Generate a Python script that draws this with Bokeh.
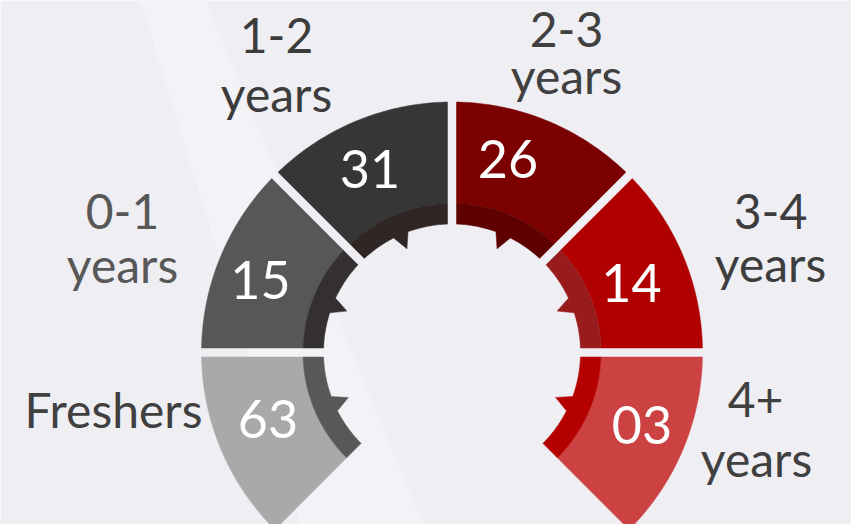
import math
from bokeh.plotting import figure
from bokeh.models import Range1d, ColumnDataSource
from bokeh.core.properties import value
from bokeh.embed import file_html
from bokeh.resources import INLINE

# ---- data ----
categories = ["Freshers", "0-1\nyears", "1-2\nyears", "2-3\nyears", "3-4\nyears", "4+\nyears"]
counts = [63, 15, 31, 26, 14, 3]

# ---- styles ----
seg_colors = ["#a9a9a9", "#575757", "#363636", "#7b0000", "#b00000", "#cc4242"]
ring_colors = ["#585858", "#353030", "#302626", "#5e0000", "#981c1e", "#b50000"]
label_colors = ["#404040", "#585858", "#3c3c3c", "#404040", "#3d3d3d", "#404040"]

# ---- layout (image pixel coordinates, y downward) ----
CX, CY = 451.5, 352.0
R_OUT, R_MID, R_IN, R_TIP = 250.5, 149.0, 128.5, 113.0
HALF_GAP = 4.5
START, SPAN = 225.0, 270.0
# category label line positions: (x, y) per line
label_lines = [
    [(113, 409)],
    [(122, 211), (122, 264)],
    [(276, 35), (276, 93)],
    [(566, 29), (566, 75)],
    [(770, 211), (770, 263)],
    [(755, 399), (756, 458)],
]
value_pos = [(267.5, 418), (260, 279), (369.5, 168), (507.5, 158), (631, 282), (641.5, 424)]

W, H = 851, 524
p = figure(width=W, height=H, output_backend="svg", toolbar_location=None,
           x_range=Range1d(0, W), y_range=Range1d(H, 0),
           min_border=0, background_fill_color="#efeef3", border_fill_color="#efeef3")
p.axis.visible = False
p.grid.visible = False
p.outline_line_color = None

# subtle lighter diagonal band in background
p.patch([140, 205, 423, 300], [0, 0, 524, 524], color="#f3f2f6", line_color=None)


def pt(r, a):
    t = math.radians(a)
    return CX + r * math.cos(t), CY - r * math.sin(t)


def arc(r, a0, a1, n=60):
    return [pt(r, a0 + (a1 - a0) * k / n) for k in range(n + 1)]


n = len(categories)
step = SPAN / n
seg_xs, seg_ys, ring_xs, ring_ys = [], [], [], []
for i in range(n):
    a_hi = START - step * i
    a_lo = a_hi - step
    gl = HALF_GAP if a_lo > START - SPAN + 1e-6 else 0.0
    gh = HALF_GAP if a_hi < START - 1e-6 else 0.0

    def lo(r):
        return a_lo + math.degrees(math.asin(gl / r))

    def hi(r):
        return a_hi - math.degrees(math.asin(gh / r))

    pts = arc(R_OUT, hi(R_OUT), lo(R_OUT)) + arc(R_MID, lo(R_MID), hi(R_MID))
    seg_xs.append([q[0] for q in pts])
    seg_ys.append([q[1] for q in pts])

    left = (a_lo + a_hi) / 2 > 90
    if left:
        t_lo, t_tip, t_hi = a_lo + 20, a_lo + 23.5, a_lo + 27
    else:
        t_lo, t_tip, t_hi = a_hi - 27, a_hi - 23.5, a_hi - 20
    inner = arc(R_IN, hi(R_IN), t_hi, 20) + [pt(R_TIP, t_tip)] + arc(R_IN, t_lo, lo(R_IN), 20)
    pts = arc(R_MID, lo(R_MID), hi(R_MID)) + inner
    ring_xs.append([q[0] for q in pts])
    ring_ys.append([q[1] for q in pts])

p.patches(seg_xs, seg_ys, fill_color=seg_colors, line_color=seg_colors, line_width=0.5)
p.patches(ring_xs, ring_ys, fill_color=ring_colors, line_color=ring_colors, line_width=0.5)

# value labels
vsrc = ColumnDataSource(dict(x=[q[0] for q in value_pos], y=[q[1] for q in value_pos],
                             t=["%02d" % v for v in counts]))
p.text(x="x", y="y", text="t", source=vsrc, text_color="white", text_align="center",
       text_baseline="alphabetic", text_font=value("Lato"),
       text_font_size="52px")

# category labels
lx, ly, lt, lc = [], [], [], []
for i, cat in enumerate(categories):
    for line, (x, y) in zip(cat.split("\n"), label_lines[i]):
        lx.append(x); ly.append(y); lt.append(line); lc.append(label_colors[i])
csrc = ColumnDataSource(dict(x=lx, y=ly, t=lt, c=lc))
p.text(x="x", y="y", text="t", source=csrc, text_color="c", text_align="center",
       text_baseline="alphabetic", text_font=value("Lato"), text_font_size="48px")

open("out.html", "w").write(file_html(p, INLINE))
